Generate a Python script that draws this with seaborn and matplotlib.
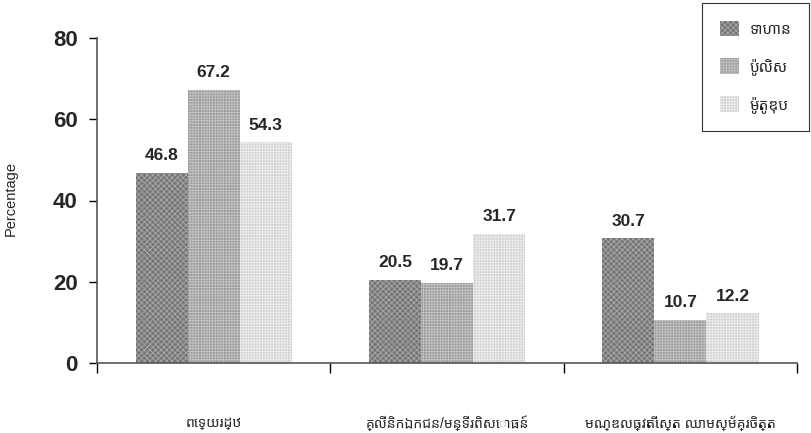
import matplotlib
matplotlib.use("Agg")
import matplotlib.pyplot as plt
import matplotlib.patches as mpatches
from matplotlib import font_manager
from matplotlib.ft2font import FT2Font
import seaborn as sns
import pandas as pd

categories = ["ពេទ្យរដ្ឋ", "គ្លីនិកឯកជន/មន្ទីរពិសោធន៍", "មណ្ឌលធ្វើតេស្ត ឈាមស្ម័គ្រចិត្ត"]
series = ["ទាហាន", "ប៉ូលិស", "ម៉ូតូឌុប"]
soldiers = [46.8, 20.5, 30.7]
police = [67.2, 19.7, 10.7]
motodop = [54.3, 31.7, 12.2]
yticks = [0, 20, 40, 60, 80]

# find an installed family with Khmer glyphs
khmer_fams = []
for f in font_manager.fontManager.ttflist:
    try:
        if 0x1780 in FT2Font(f.fname).get_charmap():
            khmer_fams.append(f.name)
    except Exception:
        pass
preferred = ["Noto Sans Khmer", "Siemreap", "Battambang", "Hanuman", "Kantumruy Pro",
             "Khmer", "Suwannaphum", "Nokora", "Content", "Dangrek"]
khmer = None
for p in preferred:
    if p in khmer_fams:
        khmer = p
        break
if khmer is None:
    others = [n for n in khmer_fams if "unifont" not in n.lower()]
    khmer = others[0] if others else (khmer_fams[0] if khmer_fams else "DejaVu Sans")

sns.set_style("white")
plt.rcParams["font.family"] = ["Liberation Sans", khmer, "DejaVu Sans"]
plt.rcParams["hatch.linewidth"] = 0.6

rows = []
for s, vals in zip(series, [soldiers, police, motodop]):
    for c, v in zip(categories, vals):
        rows.append({"cat": c, "series": s, "value": v})
df = pd.DataFrame(rows)

colors = ["#767676", "#9a9a9a", "#d2d2d2"]
hatch_cols = ["#a8a8a8", "#c4c4c4", "#ececec"]
hatches = ["xxxxxx", "++++++", "++++++"]

fig = plt.figure(figsize=(8.11, 4.33), dpi=100)
ax = fig.add_axes([97/811, 1-363/433, (797-97)/811, (363-38)/433])

sns.barplot(data=df, x="cat", y="value", hue="series", order=categories,
            hue_order=series, palette=colors, width=0.67, ax=ax,
            legend=False, linewidth=0, saturation=1)

for i, cont in enumerate(ax.containers):
    for bar in cont:
        bar.set_hatch(hatches[i])
        bar.set_edgecolor(hatch_cols[i])
        bar.set_linewidth(0)
    ax.bar_label(cont, labels=[f"{v:.1f}" for v in cont.datavalues],
                 padding=7, fontsize=12.5, fontweight="bold")

ax.set_xlim(-0.5, 2.5)
ax.set_ylim(0, 80)
ax.set_yticks(yticks)
ax.set_yticklabels([str(t) for t in yticks], fontsize=16, fontweight="bold")
ax.tick_params(axis="y", direction="out", length=6, width=1, color="black", pad=8, left=True)
ax.set_xticks(range(len(categories)))
ax.set_xticklabels(categories, fontsize=10)
ax.tick_params(axis="x", which="major", length=0, pad=38)
ax.set_xticks([-0.5, 0.5, 1.5, 2.5], minor=True)
ax.tick_params(axis="x", which="minor", direction="out", length=7, width=1, color="black", bottom=True)
ax.set_xlabel("")
ax.set_ylabel("Percentage", fontsize=10.5)
ax.yaxis.set_label_coords(-0.113, 0.505)

for side in ["top", "right"]:
    ax.spines[side].set_visible(False)
for side in ["left", "bottom"]:
    ax.spines[side].set_color("#555555")
    ax.spines[side].set_linewidth(1.2)

handles = [mpatches.Patch(facecolor=colors[i], edgecolor=hatch_cols[i], hatch=hatches[i], linewidth=0)
           for i in range(3)]
leg = fig.legend(handles, series, loc="upper right", bbox_to_anchor=(0.998, 0.993),
                 frameon=True, fancybox=False, edgecolor="black", fontsize=11,
                 borderpad=1.15, labelspacing=1.4, handlelength=1.3, handleheight=1.2,
                 handletextpad=0.7, borderaxespad=0)
leg.get_frame().set_linewidth(0.8)

fig.savefig("out.png", dpi=100)
